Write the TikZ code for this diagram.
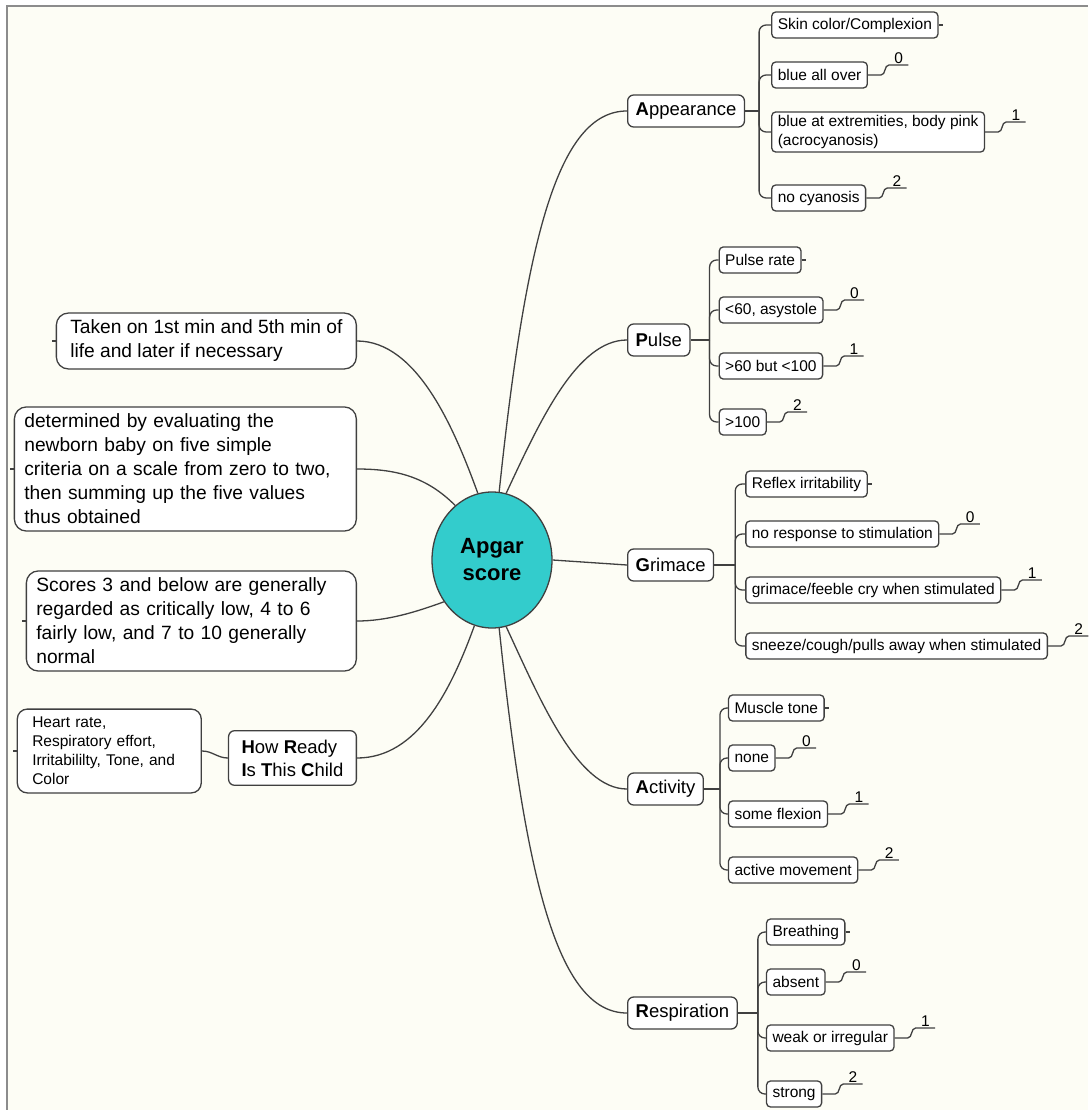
\documentclass[tikz,border=0pt]{standalone}
\usepackage{fontspec}
\setmainfont{Liberation Sans}
\usetikzlibrary{positioning,shapes.geometric}
\definecolor{paper}{RGB}{253,253,245}
\definecolor{framegray}{RGB}{140,140,140}
\definecolor{apgarteal}{RGB}{51,204,204}
\definecolor{ink}{RGB}{64,64,64}
\tikzset{
  basic/.style  = {draw=ink, line width=1.3pt, fill=white, text=black},
  root/.style   = {basic, ellipse, fill=apgarteal, minimum width=120pt,
                   minimum height=136pt, align=center,
                   font=\fontsize{22}{27}\selectfont\bfseries},
  letter/.style = {basic, rounded corners=6pt, minimum height=32pt,
                   inner xsep=8pt, font=\fontsize{18.5}{23}\selectfont},
  note/.style   = {basic, rounded corners=12pt, align=left, inner xsep=10pt,
                   inner ysep=7pt, font=\fontsize{19.2}{24}\selectfont},
  leaf/.style   = {basic, rounded corners=4pt, minimum height=26pt,
                   inner xsep=6pt, align=left, font=\fontsize{15.5}{19}\selectfont},
  score/.style  = {inner sep=1.5pt, minimum width=19pt,
                   font=\fontsize{15.5}{19}\selectfont},
  link/.style   = {draw=ink, line width=1.3pt}
}
\begin{document}
\begin{tikzpicture}[x=1pt, y=1pt]
\useasboundingbox (0,0) rectangle (1088,-1110);
\fill[white] (0,0) rectangle (1088,-1110);
\fill[paper] (7,-6) rectangle (1088,-1110);
\draw[framegray, line width=2pt] (7,-1110) -- (7,-6) -- (1088,-6);

% the centre of the map
\node[root] (apgar) at (492,-560) {Apgar\\score};

% the five letters, right side
\node[letter, anchor=west] (app) at (627,-111)  {\textbf{A}ppearance};
\node[letter, anchor=west] (pul) at (627,-340)  {\textbf{P}ulse};
\node[letter, anchor=west] (gri) at (627,-565)  {\textbf{G}rimace};
\node[letter, anchor=west] (act) at (627,-789)  {\textbf{A}ctivity};
\node[letter, anchor=west] (res) at (627,-1013) {\textbf{R}espiration};

% notes, left side
\node[note, anchor=east, minimum width=300pt] (taken) at (357,-341)
  {Taken on 1st min and 5th min of\\life and later if necessary};
\node[note, anchor=east, text width=322pt] (eval) at (357,-469)
  {determined by evaluating the\\newborn baby on five simple\\criteria on a scale from zero to two,\\then summing up the five values\\thus obtained};
\node[note, anchor=east, text width=310pt] (range) at (357,-621)
  {Scores 3 and below are generally\\regarded as critically low, 4 to 6\\fairly low, and 7 to 10 generally\\normal};
\node[letter, anchor=east, align=left, inner xsep=13pt, inner ysep=9pt] (hritc) at (357,-758)
  {\textbf{H}ow \textbf{R}eady\\\textbf{I}s \textbf{T}his \textbf{C}hild};
\node[leaf, left=26pt of hritc.west, yshift=7pt, text width=154pt, inner xsep=15pt,
      inner ysep=8pt, rounded corners=10pt] (signs)
  {Heart rate,\\Respiratory effort,\\Irritabililty, Tone, and\\Color};

% the criteria, relatively positioned
\node[leaf, above right=86pt and 26pt of app.east, anchor=west] (app1) {Skin color/Complexion};
\node[leaf, below=50pt of app1.west, anchor=west] (app2) {blue all over};
\node[leaf, below=57pt of app2.west, anchor=west] (app3) {blue at extremities, body pink\\(acrocyanosis)};
\node[leaf, below=66pt of app3.west, anchor=west] (app4) {no cyanosis};

\node[leaf, above right=80pt and 28pt of pul.east, anchor=west] (pul1) {Pulse rate};
\node[leaf, below=50pt of pul1.west, anchor=west] (pul2) {<60, asystole};
\node[leaf, below=56pt of pul2.west, anchor=west] (pul3) {>60 but <100};
\node[leaf, below=56pt of pul3.west, anchor=west] (pul4) {>100};

\node[leaf, above right=81pt and 31pt of gri.east, anchor=west] (gri1) {Reflex irritability};
\node[leaf, below=50pt of gri1.west, anchor=west] (gri2) {no response to stimulation};
\node[leaf, below=56pt of gri2.west, anchor=west] (gri3) {grimace/feeble cry when stimulated};
\node[leaf, below=56pt of gri3.west, anchor=west] (gri4) {sneeze/cough/pulls away when stimulated};

\node[leaf, above right=81pt and 24pt of act.east, anchor=west] (act1) {Muscle tone};
\node[leaf, below=50pt of act1.west, anchor=west] (act2) {none};
\node[leaf, below=56pt of act2.west, anchor=west] (act3) {some flexion};
\node[leaf, below=56pt of act3.west, anchor=west] (act4) {active movement};

\node[leaf, above right=81pt and 28pt of res.east, anchor=west] (res1) {Breathing};
\node[leaf, below=50pt of res1.west, anchor=west] (res2) {absent};
\node[leaf, below=56pt of res2.west, anchor=west] (res3) {weak or irregular};
\node[leaf, below=56pt of res3.west, anchor=west] (res4) {strong};

% curves from the centre to every branch
\draw[link] (apgar.84)  to[out=84, in=180, out distance=250pt, in distance=70pt] (app.west);
\draw[link] (apgar.78)  to[out=65, in=180, out distance=80pt, in distance=50pt] (pul.west);
\draw[link] (apgar.east) -- (gri.west);
\draw[link] (apgar.282) to[out=-65, in=180, out distance=80pt, in distance=50pt] (act.west);
\draw[link] (apgar.276) to[out=-84, in=180, out distance=250pt, in distance=70pt] (res.west);
\draw[link] (apgar.102) to[out=110, in=0, out distance=70pt, in distance=60pt] (taken.east);
\draw[link] (apgar.124) to[out=135, in=0, out distance=40pt, in distance=40pt] (eval.east);
\draw[link] (apgar.221) to[out=200, in=0, out distance=30pt, in distance=30pt] (range.east);
\draw[link] (apgar.255) to[out=250, in=0, out distance=70pt, in distance=60pt] (hritc.east);
\draw[link] (hritc.west) to[out=180, in=0] (signs.east);

\foreach \n in {taken,eval,range,signs}
  \draw[link] (\n.west) -- ++(-4pt,0);

% brackets to the criteria and the scores 0, 1, 2
\foreach \g/\j in {app/14pt,pul/19pt,gri/21pt,act/16pt,res/20pt} {
  \coordinate[right=\j of \g.east] (\g j);
  \draw[link] (\g.east) -- (\g j);
  \foreach \i in {1,...,4}
    \draw[link, rounded corners=7pt] (\g j) |- (\g\i.west);
  \draw[link] (\g1.east) -- ++(4pt,0);
  \foreach \i/\v in {2/0,3/1,4/2} {
    \node[score, above right=10pt and 21pt of \g\i.east] (\g\i v) {\v};
    \draw[link] (\g\i.east) -- ++(13pt,0) to[out=0, in=180] (\g\i v.south west)
      -- (\g\i v.south east);
  }
}
\end{tikzpicture}
\end{document}
